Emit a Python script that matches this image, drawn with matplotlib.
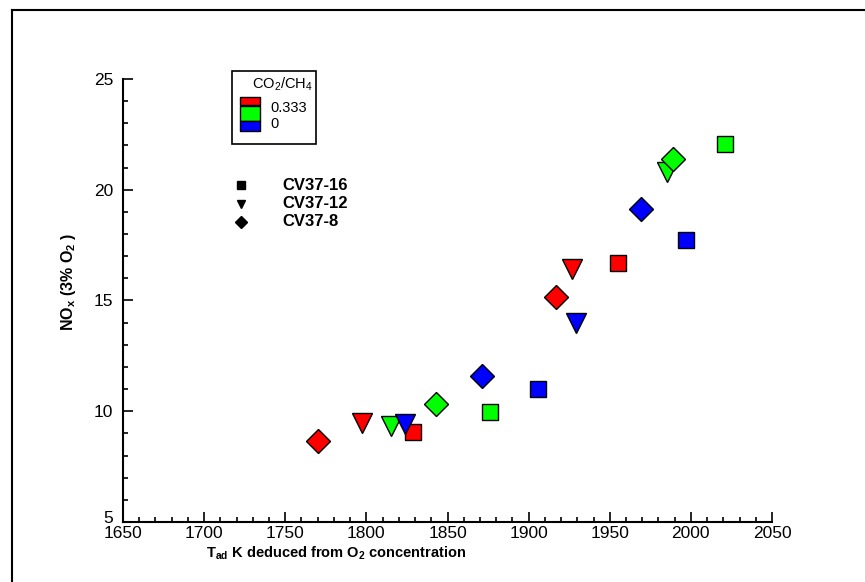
import matplotlib
matplotlib.use('Agg')
import matplotlib.pyplot as plt
from matplotlib import font_manager
from matplotlib.patches import Rectangle
from matplotlib.lines import Line2D
from matplotlib.transforms import ScaledTranslation

# fonts: condensed look like the Tecplot original
names = {f.name for f in font_manager.fontManager.ttflist}
narrow = 'Liberation Sans Narrow' if 'Liberation Sans Narrow' in names else 'Liberation Sans'
plt.rcParams['font.family'] = ['Liberation Sans', 'DejaVu Sans']
plt.rcParams['mathtext.fontset'] = 'custom'
plt.rcParams['mathtext.rm'] = 'Liberation Sans'
plt.rcParams['mathtext.bf'] = 'Liberation Sans:bold'

# data: (T_ad, NOx) per case and CO2/CH4 ratio
cv37_16_red_x = [1829, 1955]
cv37_16_red_y = [9.06, 16.69]
cv37_16_green_x = [1876, 2021]
cv37_16_green_y = [9.97, 22.07]
cv37_16_blue_x = [1906, 1997]
cv37_16_blue_y = [11.0, 17.73]

cv37_12_red_x = [1797, 1927]
cv37_12_red_y = [9.47, 16.41]
cv37_12_green_x = [1815, 1985]
cv37_12_green_y = [9.33, 20.82]
cv37_12_blue_x = [1824, 1929]
cv37_12_blue_y = [9.42, 14.0]

cv37_8_red_x = [1770, 1917]
cv37_8_red_y = [8.65, 15.16]
cv37_8_green_x = [1843, 1989]
cv37_8_green_y = [10.33, 21.39]
cv37_8_blue_x = [1871, 1969]
cv37_8_blue_y = [11.59, 19.12]

case_names = ['CV37-16', 'CV37-12', 'CV37-8']
ratio_labels = ['0.333', '0']

W, H = 865, 582
fig = plt.figure(figsize=(W / 100, H / 100), dpi=100)

def fx(px):
    return px / W

def fy(py):
    return 1 - py / H

ax = fig.add_axes([fx(123), fy(522), fx(772) - fx(123), fy(79) - fy(522)])

RED, GREEN, BLUE = '#ff0000', '#00ff00', '#0000ff'
kw = dict(linestyle='none', markeredgecolor='black', markeredgewidth=1.0)

# triangles, squares, diamonds (draw order roughly as in original)
ax.plot(cv37_12_green_x, cv37_12_green_y, 'v', color=GREEN, ms=14, **kw)
ax.plot(cv37_12_red_x, cv37_12_red_y, 'v', color=RED, ms=14, **kw)
ax.plot(cv37_16_red_x, cv37_16_red_y, 's', color=RED, ms=12, **kw)
ax.plot(cv37_12_blue_x, cv37_12_blue_y, 'v', color=BLUE, ms=14, **kw)
ax.plot(cv37_16_green_x, cv37_16_green_y, 's', color=GREEN, ms=12, **kw)
ax.plot(cv37_16_blue_x, cv37_16_blue_y, 's', color=BLUE, ms=12, **kw)
ax.plot(cv37_8_red_x, cv37_8_red_y, 'D', color=RED, ms=12, **kw)
ax.plot(cv37_8_green_x, cv37_8_green_y, 'D', color=GREEN, ms=12, **kw)
ax.plot(cv37_8_blue_x, cv37_8_blue_y, 'D', color=BLUE, ms=12, **kw)

ax.set_xlim(1650, 2050)
ax.set_ylim(5, 25)
ax.set_xticks(range(1650, 2051, 50))
ax.set_xticks(range(1650, 2051, 10), minor=True)
ax.set_yticks(range(5, 26, 5))
ax.set_yticks(range(5, 26, 1), minor=True)
ax.tick_params(which='both', direction='in', width=1.2, labelsize=12.5)
ax.tick_params(which='major', length=7)
ax.tick_params(which='minor', length=3.6)
ax.tick_params(axis='x', pad=3)
ax.tick_params(axis='y', pad=7)
for s in ['top', 'right']:
    ax.spines[s].set_visible(False)
for s in ['left', 'bottom']:
    ax.spines[s].set_linewidth(1.5)

# lift the bottom "5" a little so it sits above "1650" like the original
fig.canvas.draw()
ylab0 = ax.get_yticklabels()[0]
ylab0.set_transform(ylab0.get_transform() + ScaledTranslation(0, 5 / 100, fig.dpi_scale_trans))

fig.text(fx(336), fy(553), r'T$_\mathbf{ad}$ K deduced from O$_\mathbf{2}$ concentration',
         ha='center', va='center', fontsize=10.5, fontweight='bold', family=[narrow, 'DejaVu Sans'])
fig.text(fx(68), fy(282), r'NO$_\mathbf{x}$ (3% O$_\mathbf{2}$ )', rotation=90,
         ha='center', va='center', fontsize=11.5, fontweight='bold', family=[narrow, 'DejaVu Sans'])

# colour legend box
fig.add_artist(Rectangle((fx(232), fy(144)), fx(316) - fx(232), fy(71) - fy(144),
                         transform=fig.transFigure, fill=False, edgecolor='black', lw=1.2))
fig.text(fx(282), fy(84), r'CO$_2$/CH$_4$', ha='center', va='center', fontsize=10.5)
for (top, bot), c in zip([(97, 105), (106, 121), (121, 131)], [RED, GREEN, BLUE]):
    fig.add_artist(Rectangle((fx(240), fy(bot)), fx(260) - fx(240), fy(top) - fy(bot),
                             transform=fig.transFigure, facecolor=c, edgecolor='black', lw=1.0))
fig.text(fx(270), fy(108), ratio_labels[0], ha='left', va='center', fontsize=10.5)
fig.text(fx(270), fy(124), ratio_labels[1], ha='left', va='center', fontsize=10.5)

# marker legend
for py, m, name in zip([185, 204, 222], ['s', 'v', 'D'], case_names):
    fig.add_artist(Line2D([fx(241)], [fy(py)], marker=m, color='black', ms=6,
                          transform=fig.transFigure))
    fig.text(fx(282), fy(py), name, ha='left', va='center', fontsize=12, fontweight='bold')

# outer frame (left and top only visible)
fig.add_artist(Line2D([fx(11.5), fx(11.5)], [0, fy(9.5)], color='black', lw=1.5, transform=fig.transFigure))
fig.add_artist(Line2D([fx(11.5), 1], [fy(9.5), fy(9.5)], color='black', lw=1.5, transform=fig.transFigure))

fig.savefig('out.png', dpi=100)
